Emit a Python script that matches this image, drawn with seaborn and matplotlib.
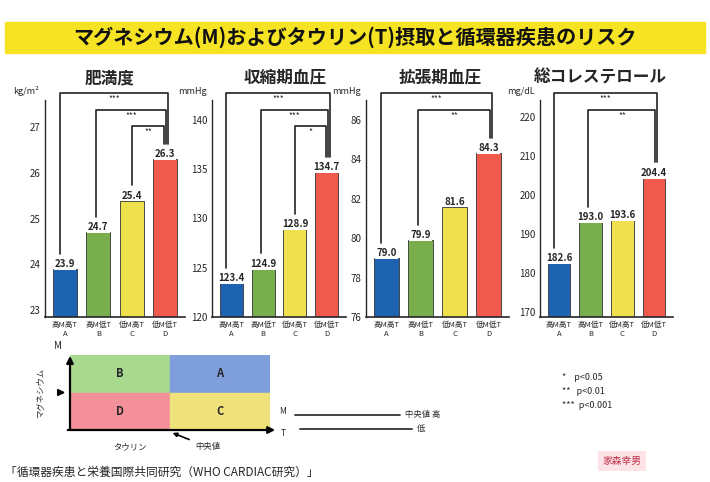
import numpy as np
import pandas as pd
import matplotlib
matplotlib.use("Agg")
import matplotlib.pyplot as plt
import matplotlib.patches as mpatches
import matplotlib.transforms as mtrans
import seaborn as sns

# ---------------------------------------------------------------------------
# data
# ---------------------------------------------------------------------------
groups = ["A", "B", "C", "D"]
group_desc = ["高M高T", "高M低T", "低M高T", "低M低T"]
bar_colors = ["#1d63b0", "#79ae4c", "#efe04e", "#f05a4c"]

panel_titles = ["肥満度", "収縮期血圧", "拡張期血圧", "総コレステロール"]
panel_units = ["kg/m²", "mmHg", "mmHg", "mg/dL"]

bmi = [23.9, 24.7, 25.4, 26.3]
sbp = [123.4, 124.9, 128.9, 134.7]
dbp = [79.0, 79.9, 81.6, 84.3]
chol = [182.6, 193.0, 193.6, 204.4]
panel_values = [bmi, sbp, dbp, chol]

panel_ylims = [(22.85, 27.6), (120, 142), (76, 87), (168.7, 224.3)]
panel_ticks = [[23, 24, 25, 26, 27], [120, 125, 130, 135, 140],
               [76, 78, 80, 82, 84, 86], [170, 180, 190, 200, 210, 220]]

# comparisons vs D: (bar, bar, mark)
comparisons = [
    [(0, 3, "***"), (1, 3, "***"), (2, 3, "**")],
    [(0, 3, "***"), (1, 3, "***"), (2, 3, "*")],
    [(0, 3, "***"), (1, 3, "**")],
    [(0, 3, "***"), (1, 3, "**")],
]

sig_notes = ["*    p<0.05", "**   p<0.01", "***  p<0.001"]
source_text = "「循環器疾患と栄養国際共同研究（WHO CARDIAC研究）」"
title_text = "マグネシウム(M)およびタウリン(T)摂取と循環器疾患のリスク"

# ---------------------------------------------------------------------------
# figure
# ---------------------------------------------------------------------------
sns.set_style("white")
plt.rcParams["font.family"] = ["Noto Sans CJK JP", "DejaVu Sans"]

W, H = 710, 482
fig = plt.figure(figsize=(W / 100, H / 100), dpi=100)


def px_axes(x0, y0, x1, y1):
    return fig.add_axes([x0 / W, 1 - y1 / H, (x1 - x0) / W, (y1 - y0) / H])


# title banner
fig.patches.append(mpatches.Rectangle((5 / W, 1 - 53 / H), 700 / W, 31 / H,
                                      transform=fig.transFigure,
                                      color="#f6e324", zorder=0))
fig.text(0.5, 1 - 37 / H, title_text, ha="center", va="center",
         fontsize=14.5, fontweight="bold", color="#111111")

panel_boxes = [(45, 185), (212, 346), (366, 509), (540, 673)]
title_x = [110, 285, 440, 600]

for i, (x0, x1) in enumerate(panel_boxes):
    ax = px_axes(x0, 100, x1, 317)
    df = pd.DataFrame({"group": groups, "value": panel_values[i]})
    sns.barplot(data=df, x="group", y="value", hue="group",
                palette=bar_colors, legend=False, width=0.72, saturation=1,
                edgecolor="#333333", linewidth=0.6, ax=ax)
    ax.set_ylim(*panel_ylims[i])
    ax.set_xlim(-0.6, 3.6)
    ax.set_yticks(panel_ticks[i])
    ax.set_yticklabels([str(t) for t in panel_ticks[i]], fontsize=7)
    ax.set_xticks(range(4))
    ax.set_xticklabels([f"{d}\n{g}" for d, g in zip(group_desc, groups)],
                       fontsize=5.5, linespacing=1.2)
    ax.set_xlabel("")
    ax.set_ylabel("")
    ax.tick_params(axis="both", length=2, pad=1)
    for s in ["top", "right"]:
        ax.spines[s].set_visible(False)
    ax.spines["left"].set_linewidth(1.0)
    ax.spines["bottom"].set_linewidth(1.2)

    # value labels
    for j, v in enumerate(panel_values[i]):
        ax.text(j, v, f"{v:.1f}", ha="center", va="bottom",
                fontsize=7, fontweight="bold",
                bbox=dict(boxstyle="square,pad=0.1", fc="white", ec="none"))

    # unit
    ax.text(-0.04, 1.02, panel_units[i], transform=ax.transAxes,
            ha="right", va="bottom", fontsize=6.5)

    # significance brackets
    trans = mtrans.blended_transform_factory(ax.transData, ax.transAxes)
    ylo, yhi = panel_ylims[i]
    for k, (a, b, mark) in enumerate(comparisons[i]):
        level = 1.03 - 0.075 * k
        xa, xb = a - 0.15 + 0.08 * k, b + 0.1 - 0.06 * k
        ya = (panel_values[i][a] - ylo) / (yhi - ylo) + 0.07
        yb = (panel_values[i][b] - ylo) / (yhi - ylo) + 0.07
        ax.plot([xa, xa, xb, xb], [ya, level, level, yb], color="#222222",
                lw=1.2, transform=trans, clip_on=False)
        ax.text((xa + xb) / 2, level - 0.005, mark, transform=trans,
                ha="center", va="top", fontsize=6)

    fig.text(title_x[i] / W, 1 - 78 / H, panel_titles[i], ha="center",
             va="center", fontsize=12, fontweight="bold")

# ---------------------------------------------------------------------------
# M/T quadrant legend
# ---------------------------------------------------------------------------
lax = px_axes(70, 355, 270, 430)
lax.set_xlim(0, 2)
lax.set_ylim(0, 2)
quad = [((0, 1), "#a9d98f", "B"), ((1, 1), "#7f9fdc", "A"),
        ((0, 0), "#f3909a", "D"), ((1, 0), "#f0e27a", "C")]
for (qx, qy), c, lab in quad:
    lax.add_patch(mpatches.Rectangle((qx, qy), 1, 1, color=c))
    lax.text(qx + 0.5, qy + 0.5, lab, ha="center", va="center",
             fontsize=8, fontweight="bold")
lax.axis("off")
lax.annotate("", xy=(0, 2.05), xytext=(0, -0.05),
             arrowprops=dict(arrowstyle="-|>", lw=1.6, color="black"),
             annotation_clip=False)
lax.annotate("", xy=(2.08, 0), xytext=(-0.05, 0),
             arrowprops=dict(arrowstyle="-|>", lw=1.6, color="black"),
             annotation_clip=False)
lax.annotate("中央値", xy=(1, -0.05), xytext=(1.25, -0.45),
             fontsize=6, ha="left", va="center",
             arrowprops=dict(arrowstyle="-|>", lw=1.2, color="black"),
             annotation_clip=False)
lax.annotate("", xy=(-0.02, 1), xytext=(-0.15, 1),
             arrowprops=dict(arrowstyle="-|>", lw=1.2, color="black"),
             annotation_clip=False)
lax.text(-0.3, 1.0, "マグネシウム", rotation=90, ha="center", va="center",
         fontsize=6)
lax.text(0.6, -0.45, "タウリン", ha="center", va="center", fontsize=6)
lax.text(-0.12, 2.1, "M", ha="center", va="bottom", fontsize=7)

# median reference lines
fig.text(283 / W, 1 - 411 / H, "M", fontsize=6, va="center", ha="center")
fig.text(283 / W, 1 - 433 / H, "T", fontsize=6, va="center", ha="center")
fig.lines.append(plt.Line2D([295 / W, 400 / W], [1 - 415 / H, 1 - 415 / H],
                            transform=fig.transFigure, color="#333333", lw=1.3))
fig.lines.append(plt.Line2D([300 / W, 412 / W], [1 - 429 / H, 1 - 429 / H],
                            transform=fig.transFigure, color="#333333", lw=1.3))
fig.text(405 / W, 1 - 415 / H, "中央値 高", fontsize=6, va="center")
fig.text(417 / W, 1 - 429 / H, "低", fontsize=6, va="center")

# p-value notes
for k, note in enumerate(sig_notes):
    fig.text(562 / W, 1 - (378 + 14 * k) / H, note, fontsize=6.5,
             va="center")

# stamp + source
fig.text(622 / W, 1 - 461 / H, "家森幸男", fontsize=7, color="#c0304a",
         ha="center", va="center",
         bbox=dict(boxstyle="square,pad=0.5", fc="#fbe3e6", ec="none"))
fig.text(5 / W, 1 - 472 / H, source_text, fontsize=8.5, va="center")

fig.savefig("out.png", dpi=100)
